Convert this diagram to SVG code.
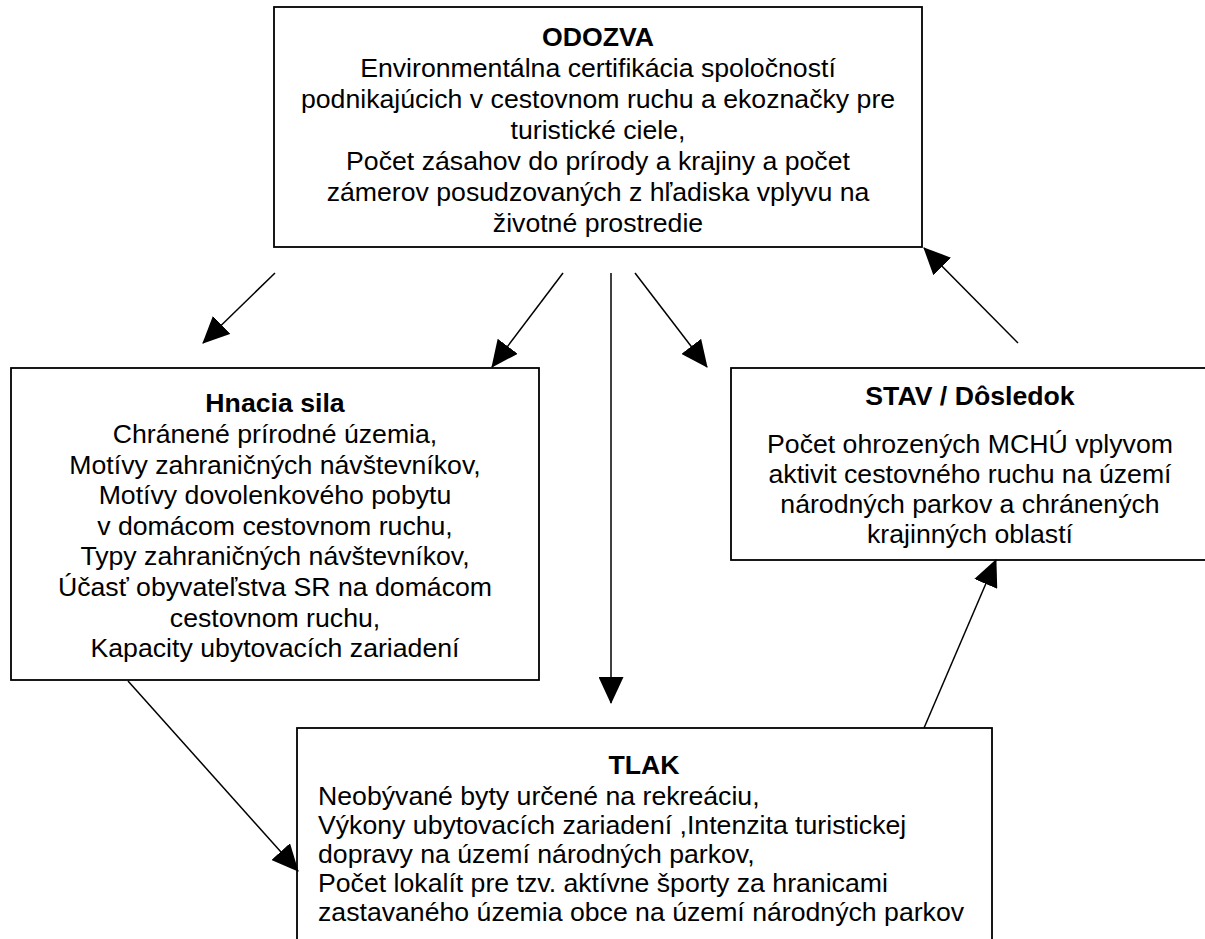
<svg xmlns="http://www.w3.org/2000/svg" width="1205" height="939" viewBox="0 0 1205 939">
<style>
.box{fill:#fff;stroke:#000;stroke-width:1.8}
text{font-family:"Liberation Sans",Arial,sans-serif;font-size:26.67px;fill:#000}
.t{font-weight:bold}
.c{text-anchor:middle}
.con line{stroke:#000;stroke-width:1.5;marker-end:url(#ah)}
</style>
<defs>
<marker id="ah" markerUnits="userSpaceOnUse" markerWidth="27" markerHeight="25" refX="26" refY="12.5" orient="auto">
<path d="M0,0 L27,12.5 L0,25 z" fill="#000"/>
</marker>
</defs>
<rect width="1205" height="939" fill="#fff"/>
<g id="odozva">
<rect class="box" x="274" y="7" width="648" height="240"/>
<text class="t c" x="598" y="46">ODOZVA</text>
<text class="c" x="598" y="76.5">Environmentálna certifikácia spoločností</text>
<text class="c" x="598" y="107.5">podnikajúcich v cestovnom ruchu a ekoznačky pre</text>
<text class="c" x="598" y="138.5">turistické ciele,</text>
<text class="c" x="598" y="169.5">Počet zásahov do prírody a krajiny a počet</text>
<text class="c" x="598" y="200.5">zámerov posudzovaných z hľadiska vplyvu na</text>
<text class="c" x="598" y="231.5">životné prostredie</text>
</g>
<g id="hnacia">
<rect class="box" x="11" y="368" width="528" height="312"/>
<text class="t c" x="275" y="412">Hnacia sila</text>
<text class="c" x="275" y="443">Chránené prírodné územia,</text>
<text class="c" x="275" y="473.6">Motívy zahraničných návštevníkov,</text>
<text class="c" x="275" y="504.2">Motívy dovolenkového pobytu</text>
<text class="c" x="275" y="534.8">v domácom cestovnom ruchu,</text>
<text class="c" x="275" y="565.4">Typy zahraničných návštevníkov,</text>
<text class="c" x="275" y="596">Účasť obyvateľstva SR na domácom</text>
<text class="c" x="275" y="626.6">cestovnom ruchu,</text>
<text class="c" x="275" y="657.2">Kapacity ubytovacích zariadení</text>
</g>
<g id="stav">
<rect class="box" x="731" y="368" width="478" height="192"/>
<text class="t c" x="970" y="405">STAV / Dôsledok</text>
<text class="c" x="970" y="452.5">Počet ohrozených MCHÚ vplyvom</text>
<text class="c" x="970" y="482.5">aktivit cestovného ruchu na území</text>
<text class="c" x="970" y="512.5">národných parkov a chránených</text>
<text class="c" x="970" y="542.5">krajinných oblastí</text>
</g>
<g id="tlak">
<rect class="box" x="297" y="728" width="695" height="240"/>
<text class="t c" x="644" y="774">TLAK</text>
<text x="318" y="805">Neobývané byty určené na rekreáciu,</text>
<text x="318" y="834">Výkony ubytovacích zariadení ,Intenzita turistickej</text>
<text x="318" y="863">dopravy na území národných parkov,</text>
<text x="318" y="892">Počet lokalít pre tzv. aktívne športy za hranicami</text>
<text x="318" y="921">zastavaného územia obce na území národných parkov</text>
</g>
<g id="connectors" class="con">
<line x1="275" y1="273" x2="203" y2="343"/>
<line x1="563" y1="273" x2="492" y2="367"/>
<line x1="611" y1="273" x2="611" y2="703"/>
<line x1="635" y1="273" x2="707" y2="367"/>
<line x1="1018" y1="343" x2="924" y2="248"/>
<line x1="924" y1="728" x2="996" y2="560"/>
<line x1="128" y1="681" x2="298" y2="871"/>
</g>
</svg>
